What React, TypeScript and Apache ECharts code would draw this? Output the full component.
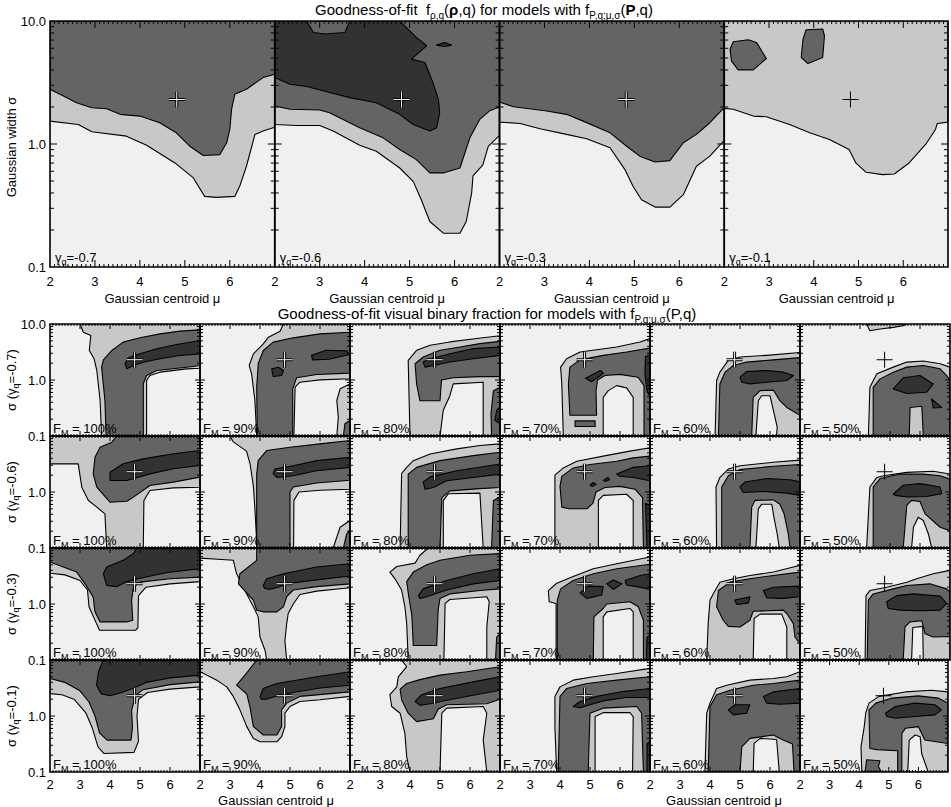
import React, { useEffect, useRef } from 'react';
import * as echarts from 'echarts';

// polygon outline points are [mu, log10(sigma)]; shade index 0..3
type Pt = [number, number];
type Poly = [number, Pt[]];

const SHADES = ['#f0f0f0', '#c8c8c8', '#646464', '#323232'];
const GAMMA_Q = ['-0.7', '-0.6', '-0.3', '-0.1'];
const F_M = ['100%', '90%', '80%', '70%', '60%', '50%'];
const MU_TICKS = [2, 3, 4, 5, 6, 7];
const SIGMA_MAJOR = [0.1, 1, 10];
const SIGMA_MINOR = [0.2, 0.3, 0.4, 0.5, 0.6, 0.7, 0.8, 0.9, 2, 3, 4, 5, 6, 7, 8, 9];
const BEST_FIT: [number, number] = [4.82, 2.3];

// ---------- top row: goodness of fit f_rho,q ----------
const TOP_M07: Poly[] = [
  [1, [[2, 1], [7, 1], [7, 0.137], [6.74, 0.105], [6.56, 0.078], [6.37, -0.181], [6.22, -0.344], [6.11, -0.426], [5.7, -0.434], [5.44, -0.426], [5.19, -0.276], [4.78, -0.154], [4.15, -0.01], [3.7, 0.064], [2.93, 0.099], [2.63, 0.159], [2, 0.186]]],
  [2, [[2, 1], [7, 1], [7, 0.567], [6.74, 0.54], [6.37, 0.445], [6.11, 0.404], [6.04, 0.282], [6.0, 0.118], [5.93, 0.01], [5.78, -0.086], [5.41, -0.094], [5.11, -0.018], [4.81, 0.091], [4.44, 0.173], [4.0, 0.227], [3.56, 0.241], [3.26, 0.287], [2.93, 0.295], [2.59, 0.336], [2.3, 0.39], [2, 0.445]]],
];
const TOP_M06: Poly[] = [
  [1, [[2, 1], [7, 1], [7, 0.07], [6.75, -0.02], [6.63, -0.17], [6.41, -0.26], [6.38, -0.4], [6.26, -0.63], [6.12, -0.725], [5.75, -0.725], [5.45, -0.63], [5.26, -0.453], [5.08, -0.304], [4.78, -0.195], [4.26, -0.059], [3.89, -0.01], [3.3, 0.105], [3.0, 0.151], [2.49, 0.151], [2, 0.159]]],
  [2, [[2, 1], [7, 1], [7, 0.3], [6.78, 0.27], [6.56, 0.2], [6.34, 0.05], [6.12, -0.195], [5.75, -0.235], [5.45, -0.235], [5.15, -0.127], [4.78, -0.045], [4.41, 0.05], [3.89, 0.132], [3.22, 0.254], [3.0, 0.276], [2.34, 0.282], [2, 0.309]]],
  [3, [[2, 1], [2.71, 1], [2.86, 0.907], [3.12, 0.894], [3.56, 0.907], [3.67, 1], [4.78, 1], [5.15, 0.867], [5.38, 0.799], [5.04, 0.69], [5.34, 0.663], [5.52, 0.499], [5.64, 0.363], [5.67, 0.254], [5.6, 0.132], [5.45, 0.105], [5.08, 0.159], [4.78, 0.241], [4.26, 0.336], [3.67, 0.377], [3.22, 0.418], [2.71, 0.467], [2.34, 0.486], [2, 0.54]]],
  [3, [[5.6, 0.804], [5.78, 0.826], [5.93, 0.804], [5.78, 0.793]]],
];
const TOP_M03: Poly[] = [
  [1, [[2, 1], [7, 1], [7, 0.029], [6.68, -0.099], [6.38, -0.181], [6.09, -0.412], [5.79, -0.513], [5.46, -0.513], [5.16, -0.453], [4.97, -0.344], [4.79, -0.208], [4.46, -0.031], [3.94, 0.042], [3.49, 0.078], [2.9, 0.124], [2.46, 0.167], [2, 0.178]]],
  [2, [[2, 1], [7, 1], [7, 0.295], [6.68, 0.173], [6.38, 0.078], [6.09, 0.01], [5.79, -0.135], [5.46, -0.146], [5.12, -0.099], [4.83, -0.018], [4.46, 0.091], [3.86, 0.186], [3.49, 0.241], [3.05, 0.268], [2.31, 0.303], [2, 0.341]]],
];
const TOP_M01: Poly[] = [
  [1, [[2, 1], [7, 1], [7, 0.178], [6.76, 0.167], [6.72, 0.118], [6.5, -0.004], [6.13, -0.154], [5.8, -0.244], [5.54, -0.249], [5.17, -0.23], [4.94, -0.154], [4.79, -0.045], [4.35, 0.037], [3.91, 0.091], [3.46, 0.159], [2.94, 0.222], [2.65, 0.227], [2.2, 0.282], [2, 0.29]]],
  [2, [[2.2, 0.831], [2.54, 0.848], [2.72, 0.826], [2.94, 0.695], [2.65, 0.603], [2.31, 0.603], [2.16, 0.676], [2.13, 0.771]]],
  [2, [[3.83, 0.929], [4.2, 0.935], [4.24, 0.88], [4.2, 0.703], [3.87, 0.654], [3.72, 0.703], [3.76, 0.853]]],
];

// ---------- bottom grid: visual binary fraction ----------
const G07_F100: Poly[] = [
  [1, [[3.0, 1], [7, 1], [7, 0.211], [6.56, 0.199], [5.67, 0.14], [5.33, 0.08], [5.22, -0.009], [5.22, -1], [3.72, -1], [3.67, -0.366], [3.56, 0.17], [3.47, 0.378], [3.31, 0.527], [3.36, 0.795], [3.11, 0.854]]],
  [2, [[7, 0.896], [7, 0.259], [6.56, 0.229], [5.56, 0.17], [5.22, 0.08], [5.11, -0.068], [5.11, -1], [3.87, -1], [3.83, -0.366], [3.72, 0.229], [3.78, 0.36], [4.06, 0.527], [4.44, 0.676], [5.0, 0.753], [5.67, 0.824], [6.33, 0.872]]],
  [3, [[4.5, 0.289], [4.61, 0.396], [5.0, 0.467], [5.56, 0.557], [6.22, 0.634], [7, 0.705], [7, 0.467], [6.33, 0.438], [5.67, 0.378], [5.11, 0.318], [4.78, 0.259], [4.56, 0.199]]],
];
const G07_F90: Poly[] = [
  [1, [[4.67, 0.872], [4.78, 1], [7, 1], [7, 0.021], [6.0, 0.003], [5.33, -0.039], [5.17, -0.128], [5.13, -1], [3.89, -1], [3.83, -0.366], [3.72, 0.11], [3.64, 0.259], [3.78, 0.467], [4.11, 0.646], [4.28, 0.765]]],
  [1, [[7, -0.07], [6.67, -0.158], [6.56, -0.366], [6.61, -0.664], [6.56, -1], [7, -1]]],
  [2, [[7, 0.854], [7, 0.122], [5.89, 0.098], [5.22, 0.039], [5.09, -0.158], [5.09, -1], [3.91, -1], [3.89, -0.128], [3.94, 0.289], [4.11, 0.527], [4.44, 0.676], [5.11, 0.753], [6.0, 0.824]]],
  [2, [[6.83, -0.78], [7, -0.72], [7, -1], [6.78, -1]]],
  [3, [[4.39, 0.199], [4.61, 0.229], [4.78, 0.17], [4.72, 0.08], [4.44, 0.063]]],
  [3, [[5.72, 0.44], [6.2, 0.53], [6.9, 0.52], [6.95, 0.45], [6.3, 0.37], [5.75, 0.36]]],
];
const G07_F80: Poly[] = [
  [1, [[4.0, -1], [3.94, 0.35], [4.22, 0.53], [4.67, 0.62], [5.33, 0.68], [6.22, 0.74], [7, 0.79], [7, -1]]],
  [0, [[5.0, -1], [5.11, -0.54], [5.33, -0.28], [5.44, -0.07], [6.44, -0.04], [6.44, -1]]],
  [2, [[4.17, 0.29], [4.44, 0.41], [5.0, 0.53], [5.67, 0.59], [6.33, 0.65], [7, 0.69], [7, 0.06], [6.33, 0.06], [5.44, 0.04], [5.05, 0.0], [5.0, -0.37], [4.33, -0.37], [4.22, -0.07]]],
  [2, [[6.72, -1], [6.7, -0.6], [6.78, -0.19], [7, -0.13], [7, -1]]],
  [3, [[4.44, 0.32], [4.67, 0.38], [5.33, 0.47], [6.11, 0.56], [7, 0.59], [7, 0.44], [6.11, 0.38], [5.33, 0.32], [4.78, 0.26], [4.5, 0.23]]],
  [3, [[6.89, -0.54], [7, -0.48], [7, -0.78], [6.83, -0.72]]],
];
const G07_F70: Poly[] = [
  [1, [[4.11, -1], [4.06, -0.07], [4.02, 0.23], [4.22, 0.38], [4.67, 0.5], [5.22, 0.54], [5.89, 0.59], [6.67, 0.68], [7, 0.74], [7, -1]]],
  [2, [[4.33, -0.63], [4.28, -0.07], [4.33, 0.23], [4.67, 0.36], [5.44, 0.44], [6.22, 0.5], [7, 0.57], [7, -1], [6.8, -1], [6.8, -0.1], [6.6, 0.05], [6.0, 0.1], [5.5, 0.08], [5.25, 0.0], [5.2, -0.2], [5.22, -0.63]]],
  [2, [[4.5, -0.73], [5.17, -0.73], [5.17, -0.83], [4.5, -0.83]]],
  [0, [[5.44, -1], [5.44, -0.31], [5.61, -0.19], [5.89, -0.1], [6.22, -0.14], [6.44, -0.31], [6.44, -1]]],
  [3, [[4.85, 0.03], [5.35, 0.17], [5.45, 0.12], [5.05, -0.03]]],
  [3, [[6.85, 0.42], [7, 0.45], [7, -0.3], [6.9, -0.2], [6.83, 0.1]]],
];
const G07_F60: Poly[] = [
  [1, [[4.17, -1], [4.22, -0.01], [4.33, 0.14], [4.61, 0.35], [5.0, 0.41], [5.89, 0.44], [7, 0.49], [7, -1]]],
  [2, [[4.28, -1], [4.33, -0.07], [4.5, 0.14], [4.78, 0.26], [5.22, 0.32], [6.11, 0.36], [7, 0.4], [7, -1]]],
  [1, [[5.39, -1], [5.44, -0.31], [5.67, -0.19], [6.11, -0.18], [6.33, -0.37], [6.56, -0.49], [7, -0.63], [7, -1]]],
  [0, [[5.53, -1], [5.61, -0.37], [5.72, -0.28], [6.0, -0.28], [6.09, -0.49], [6.24, -0.84], [6.22, -1]]],
  [3, [[5.0, 0.05], [5.22, 0.15], [5.89, 0.17], [6.44, 0.14], [6.78, 0.08], [6.56, -0.01], [5.89, -0.04], [5.33, -0.07], [5.06, -0.04]]],
];
const G07_F50: Poly[] = [
  [1, [[4.22, 1], [4.33, 0.88], [4.67, 0.91], [5.11, 0.94], [5.44, 0.97], [5.56, 1]]],
  [1, [[4.28, -1], [4.33, -0.13], [4.56, 0.11], [5.11, 0.23], [5.56, 0.32], [6.11, 0.34], [6.67, 0.29], [7, 0.23], [7, -1]]],
  [2, [[4.44, -1], [4.44, -0.13], [4.67, 0.02], [5.11, 0.14], [5.56, 0.23], [6.11, 0.26], [6.67, 0.2], [6.89, 0.08], [7, -0.01], [7, -1]]],
  [1, [[5.64, -1], [5.67, -0.49], [6.06, -0.47], [6.11, -1]]],
  [3, [[5.11, -0.16], [5.44, 0.04], [6.0, 0.08], [6.44, -0.07], [6.22, -0.22], [5.56, -0.24]]],
  [3, [[6.39, -0.34], [6.72, -0.49], [6.44, -0.5]]],
];

const G06_F100: Poly[] = [
  [1, [[2, 1], [7, 1], [7, 0.086], [6.11, 0.074], [5.33, 0.027], [5.13, -0.152], [5.11, -1], [3.89, -1], [3.83, -0.39], [3.56, -0.271], [3.28, -0.152], [3.06, 0.086], [2.94, 0.503], [2, 0.503]]],
  [2, [[4.22, 1], [7, 1], [7, 0.265], [6.11, 0.176], [5.33, 0.116], [4.78, -0.092], [4.56, -0.164], [4.0, -0.182], [3.56, 0.086], [3.44, 0.324], [3.5, 0.622], [3.67, 0.801], [4.06, 0.89]]],
  [3, [[4.0, 0.354], [4.44, 0.503], [5.11, 0.592], [6.11, 0.682], [7, 0.741], [7, 0.473], [6.11, 0.414], [5.33, 0.324], [4.56, 0.205], [4.0, 0.205]]],
];
const G06_F90: Poly[] = [
  [1, [[3.0, 1], [7, 1], [7, 0.05], [6.0, 0.03], [5.3, 0.0], [5.13, -0.15], [5.12, -1], [3.9, -1], [3.83, -0.3], [3.78, 0.1], [3.67, 0.5], [3.55, 0.73], [3.1, 0.9]]],
  [1, [[7, -0.51], [6.67, -0.63], [6.44, -1], [7, -1]]],
  [2, [[4.22, 0.74], [5.0, 0.8], [6.0, 0.86], [7, 0.92], [7, 0.21], [5.89, 0.16], [5.11, 0.09], [5.0, 0.0], [5.0, -1], [3.89, -1], [3.89, 0.32], [3.94, 0.56]]],
  [2, [[6.89, -0.75], [7, -0.69], [7, -1], [6.78, -1]]],
  [3, [[4.44, 0.33], [4.5, 0.41], [5.11, 0.47], [5.89, 0.56], [7, 0.62], [7, 0.44], [5.89, 0.38], [5.11, 0.29], [4.56, 0.26]]],
];
const G06_F80: Poly[] = [
  [1, [[3.67, -1], [3.72, 0.33], [3.89, 0.44], [4.11, 0.56], [4.67, 0.68], [5.56, 0.77], [6.33, 0.83], [7, 0.86], [7, -1]]],
  [0, [[5.11, -1], [5.11, -0.15], [5.28, -0.03], [6.33, -0.02], [6.44, -1]]],
  [2, [[3.94, -1], [3.94, 0.32], [4.22, 0.44], [5.0, 0.56], [6.11, 0.65], [7, 0.71], [7, 0.08], [6.33, 0.06], [5.33, 0.02], [5.06, -0.1], [5.0, -1]]],
  [2, [[6.72, -1], [6.78, -0.15], [7, -0.09], [7, -1]]],
  [3, [[4.44, 0.18], [4.67, 0.27], [5.56, 0.38], [7, 0.5], [7, 0.32], [6.11, 0.26], [5.22, 0.2], [4.78, 0.08], [4.5, 0.05]]],
];
const G06_F70: Poly[] = [
  [1, [[3.83, -1], [3.83, 0.3], [4.11, 0.43], [4.56, 0.55], [5.44, 0.64], [6.33, 0.73], [7, 0.79], [7, -1]]],
  [2, [[4.3, -0.3], [4.06, -0.27], [4.0, 0.1], [4.06, 0.28], [4.44, 0.43], [5.0, 0.49], [5.89, 0.55], [6.44, 0.61], [7, 0.64], [7, -1], [6.78, -1], [6.75, -0.1], [6.5, 0.05], [6.0, 0.1], [5.5, 0.08], [5.2, 0.0], [5.1, -0.2], [4.9, -0.3]]],
  [0, [[5.28, -1], [5.28, -0.15], [5.44, -0.06], [6.22, -0.04], [6.44, -0.15], [6.44, -1]]],
  [3, [[5.89, 0.32], [6.44, 0.44], [7, 0.47], [7, 0.2], [6.44, 0.26], [6.0, 0.28]]],
  [3, [[5.0, 0.12], [5.11, 0.17], [5.2, 0.14], [5.08, 0.1]]],
  [3, [[5.45, 0.21], [5.6, 0.26], [5.65, 0.22], [5.5, 0.19]]],
  [3, [[6.85, -0.2], [7, -0.25], [7, -1], [6.9, -1]]],
];
const G06_F60: Poly[] = [
  [1, [[4.22, -1], [4.2, 0.09], [4.33, 0.26], [4.61, 0.41], [5.0, 0.47], [6.11, 0.53], [7, 0.57], [7, -1]]],
  [2, [[4.39, -1], [4.39, 0.09], [4.61, 0.29], [5.0, 0.4], [6.11, 0.46], [7, 0.49], [7, -1]]],
  [1, [[5.33, -1], [5.39, -0.27], [5.5, -0.15], [6.11, -0.14], [6.33, -0.22], [6.47, -0.39], [6.61, -0.75], [6.67, -1]]],
  [0, [[5.53, -1], [5.61, -0.3], [5.72, -0.22], [6.06, -0.22], [6.13, -0.45], [6.24, -0.75], [6.31, -1]]],
  [3, [[5.0, 0.09], [5.17, 0.18], [5.89, 0.24], [6.67, 0.22], [7, 0.18], [7, -0.06], [6.56, -0.02], [5.78, 0.01], [5.11, -0.01]]],
];
const G06_F50: Poly[] = [
  [1, [[4.22, -1], [4.33, 0.09], [4.56, 0.26], [4.78, 0.29], [5.56, 0.35], [6.44, 0.37], [7, 0.32], [7, -1]]],
  [2, [[4.44, -1], [4.44, 0.09], [4.67, 0.24], [5.33, 0.32], [6.11, 0.32], [6.67, 0.29], [7, 0.23], [7, -1]]],
  [1, [[5.44, -1], [5.56, -0.24], [5.72, -0.15], [6.0, -0.17], [6.17, -0.39], [6.67, -0.63], [7, -0.69], [7, -1]]],
  [0, [[5.72, -1], [5.78, -0.63], [5.94, -0.45], [6.11, -0.51], [6.28, -0.75], [6.39, -1]]],
  [3, [[5.11, -0.04], [5.44, 0.12], [6.0, 0.15], [6.67, 0.09], [6.72, -0.03], [6.22, -0.08], [5.56, -0.09], [5.17, -0.06]]],
];

const G03_F100: Poly[] = [
  [1, [[2, 1], [7, 1], [7, 0.4], [6, 0.36], [5.2, 0.3], [4.95, 0.15], [4.93, -0.42], [4.85, -0.47], [3.65, -0.47], [3.55, -0.35], [3.3, -0.05], [3.25, 0.25], [3.0, 0.42], [2.5, 0.52], [2, 0.55]]],
  [2, [[2, 1], [7, 1], [7, 0.48], [6.0, 0.45], [5.0, 0.39], [4.78, 0.3], [4.72, 0.07], [4.76, -0.29], [4.56, -0.32], [3.67, -0.32], [3.5, -0.14], [3.44, 0.12], [3.17, 0.36], [2.89, 0.57], [2.44, 0.66], [2, 0.75]]],
  [3, [[3.78, 0.54], [3.89, 0.66], [4.44, 0.78], [4.78, 0.9], [4.89, 1], [7, 1], [7, 0.63], [6.0, 0.57], [5.0, 0.46], [4.56, 0.4], [4.22, 0.31], [3.89, 0.33]]],
];
const G03_F90: Poly[] = [
  [1, [[2, 1], [7, 1], [7, 0.29], [5.89, 0.23], [5.33, 0.17], [5.11, 0.0], [4.94, -0.17], [4.89, -0.35], [4.83, -0.66], [4.89, -1], [4.22, -1], [4.17, -0.83], [4.0, -0.59], [3.94, -0.23], [3.78, -0.05], [3.44, 0.3], [3.22, 0.54], [3.11, 0.78], [2.6, 0.8], [2, 0.82]]],
  [2, [[3.89, 1], [7, 1], [7, 0.36], [5.89, 0.31], [5.11, 0.25], [4.89, 0.13], [4.78, -0.05], [4.56, -0.14], [4.11, -0.14], [3.89, -0.11], [3.78, 0.07], [3.28, 0.36], [3.33, 0.54], [3.89, 0.78]]],
  [3, [[4.11, 0.33], [4.22, 0.45], [4.78, 0.54], [5.89, 0.66], [7, 0.72], [7, 0.5], [5.89, 0.43], [5.0, 0.37], [4.6, 0.3], [4.3, 0.26], [4.15, 0.28]]],
];
const G03_F80: Poly[] = [
  [1, [[3.33, 0.57], [3.56, 0.67], [4.17, 0.73], [4.33, 0.87], [4.61, 1], [7, 1], [7, -1], [3.94, -1], [3.89, -0.35], [3.83, -0.05], [3.72, 0.25], [3.5, 0.45]]],
  [0, [[5.13, -1], [5.17, 0.01], [5.33, 0.08], [6.56, 0.13], [6.64, 0.04], [6.56, -0.41], [6.56, -1]]],
  [2, [[6.85, -1], [6.89, -0.59], [7, -0.53], [7, -1]]],
  [2, [[4.11, -0.74], [4.06, -0.2], [3.94, 0.2], [3.89, 0.4], [4.11, 0.57], [4.56, 0.7], [5.0, 0.78], [6.0, 0.87], [7, 0.9], [7, 0.27], [6.33, 0.24], [5.33, 0.18], [5.0, 0.1], [4.94, -0.1], [4.89, -0.74]]],
  [3, [[4.28, 0.15], [4.44, 0.27], [5.22, 0.42], [6.11, 0.54], [7, 0.63], [7, 0.42], [6.11, 0.36], [5.22, 0.25], [4.56, 0.13], [4.33, 0.1]]],
];
const G03_F70: Poly[] = [
  [1, [[3.61, 0.24], [3.89, 0.37], [4.44, 0.49], [5.11, 0.63], [5.89, 0.72], [7, 0.84], [7, -1], [3.87, -1], [3.87, 0.01], [3.64, 0.04]]],
  [2, [[3.91, -1], [3.91, 0.07], [4.02, 0.27], [4.44, 0.42], [5.11, 0.54], [5.89, 0.63], [7, 0.71], [7, -1]]],
  [1, [[5.11, -1], [5.13, -0.23], [5.44, -0.08], [5.56, 0.0], [6.33, 0.04], [6.61, -0.05], [6.78, -0.29], [6.78, -1]]],
  [0, [[5.44, -1], [5.44, -0.23], [5.56, -0.14], [6.33, -0.08], [6.44, -0.14], [6.44, -1]]],
  [3, [[4.67, 0.2], [4.94, 0.32], [5.44, 0.31], [5.39, 0.16], [4.89, 0.1]]],
  [3, [[5.56, 0.36], [5.78, 0.43], [6.06, 0.36], [5.78, 0.26]]],
  [3, [[6.17, 0.42], [6.67, 0.51], [7, 0.54], [7, 0.26], [6.56, 0.31], [6.22, 0.34]]],
  [3, [[6.9, -0.6], [7, -0.55], [7, -1], [6.88, -1]]],
];
const G03_F60: Poly[] = [
  [1, [[3.89, -1], [3.94, -0.35], [4.0, 0.07], [4.17, 0.24], [4.33, 0.39], [4.78, 0.45], [5.33, 0.51], [6.11, 0.57], [6.78, 0.66], [7, 0.69], [7, -1]]],
  [2, [[4.28, 0.24], [4.67, 0.39], [5.33, 0.45], [6.11, 0.51], [7, 0.57], [7, -0.71], [6.83, -0.59], [6.78, -0.35], [6.56, -0.17], [6.44, -0.11], [5.44, -0.13], [5.33, -0.29], [5.0, -0.41], [4.61, -0.4], [4.44, -0.29], [4.22, -0.05]]],
  [0, [[5.44, -1], [5.47, -0.26], [5.67, -0.18], [6.39, -0.18], [6.56, -0.41], [6.56, -1]]],
  [3, [[4.83, 0.07], [5.33, 0.13], [5.28, 0.02], [4.89, -0.01]]],
  [3, [[5.78, 0.24], [6.11, 0.3], [7, 0.32], [7, 0.13], [6.44, 0.1], [5.89, 0.11]]],
];
const G03_F50: Poly[] = [
  [1, [[4.17, -1], [4.2, 0.15], [4.33, 0.24], [4.89, 0.3], [5.56, 0.39], [5.89, 0.45], [6.44, 0.54], [7, 0.6], [7, -1]]],
  [2, [[4.24, -1], [4.28, 0.07], [4.44, 0.18], [5.11, 0.27], [5.56, 0.33], [6.33, 0.36], [6.89, 0.27], [7, 0.21], [7, -1]]],
  [1, [[5.44, -1], [5.5, -0.41], [5.67, -0.32], [6.06, -0.3], [6.17, -0.53], [6.44, -0.59], [7, -0.58], [7, -1]]],
  [0, [[5.72, -1], [5.76, -0.42], [6.09, -0.4], [6.11, -1]]],
  [3, [[4.89, 0.04], [5.22, 0.15], [5.78, 0.18], [6.67, 0.14], [6.89, 0.01], [6.67, -0.11], [6.0, -0.12], [5.33, -0.11], [4.94, -0.08]]],
];

const G01_F100: Poly[] = [
  [1, [[2, 1], [7, 1], [7, 0.52], [6, 0.48], [5.25, 0.42], [4.95, 0.3], [4.9, 0.0], [4.95, -0.45], [4.8, -0.65], [3.8, -0.67], [3.6, -0.55], [3.4, -0.2], [3.2, 0.05], [2.8, 0.3], [2.4, 0.38], [2, 0.4]]],
  [2, [[2, 1], [7, 1], [7, 0.61], [6, 0.56], [5.1, 0.47], [4.85, 0.36], [4.72, 0.1], [4.75, -0.2], [4.7, -0.43], [3.9, -0.43], [3.65, -0.3], [3.5, 0.0], [3.3, 0.25], [3.0, 0.45], [2.5, 0.6], [2, 0.67]]],
  [3, [[3.78, 1], [7, 1], [7, 0.73], [6.0, 0.68], [5.2, 0.6], [4.8, 0.5], [4.4, 0.42], [4.0, 0.36], [3.7, 0.4], [3.55, 0.55], [3.62, 0.8]]],
];
const G01_F90: Poly[] = [
  [1, [[2, 1], [7, 1], [7, 0.35], [6.0, 0.29], [5.33, 0.26], [5.0, 0.17], [4.83, 0.05], [4.83, -0.19], [4.72, -0.37], [4.56, -0.46], [4.0, -0.46], [3.78, -0.4], [3.56, -0.19], [3.33, 0.11], [3.11, 0.35], [2.89, 0.52], [2.56, 0.64], [2, 0.79]]],
  [2, [[3.89, 1], [7, 1], [7, 0.43], [5.33, 0.35], [4.89, 0.23], [4.72, 0.11], [4.72, -0.19], [4.56, -0.34], [4.11, -0.34], [3.78, -0.19], [3.67, 0.15], [3.56, 0.39], [3.22, 0.55], [3.56, 0.77]]],
  [3, [[4.0, 0.35], [4.11, 0.49], [4.56, 0.58], [5.89, 0.7], [7, 0.79], [7, 0.55], [6.0, 0.5], [5.1, 0.42], [4.6, 0.36], [4.2, 0.3], [4.05, 0.3]]],
];
const G01_F80: Poly[] = [
  [1, [[3.72, 1], [7, 1], [7, -1], [4.0, -1], [3.89, -0.73], [3.83, -0.31], [3.67, 0.05], [3.39, 0.17], [3.33, 0.38], [3.56, 0.52], [3.61, 0.7], [3.89, 0.88]]],
  [0, [[5.0, -1], [5.06, 0.05], [5.22, 0.14], [6.44, 0.17], [6.56, 0.05], [6.44, -0.43], [6.56, -1]]],
  [2, [[3.67, 0.48], [3.89, 0.58], [4.33, 0.65], [5.0, 0.73], [5.89, 0.79], [7, 0.88], [7, 0.3], [6.56, 0.22], [5.22, 0.2], [4.94, 0.12], [4.78, -0.05], [4.22, -0.1], [3.94, 0.05], [3.72, 0.29]]],
  [3, [[4.17, 0.26], [4.39, 0.38], [5.0, 0.49], [6.11, 0.61], [7, 0.7], [7, 0.46], [6.11, 0.37], [5.22, 0.28], [4.67, 0.22], [4.33, 0.19]]],
];
const G01_F70: Poly[] = [
  [1, [[3.83, 0.35], [4.0, 0.52], [4.44, 0.64], [5.11, 0.7], [5.89, 0.76], [7, 0.85], [7, -1], [3.89, -1], [3.83, -0.2]]],
  [2, [[3.94, -1], [4.0, 0.35], [4.22, 0.49], [4.89, 0.58], [5.89, 0.64], [7, 0.7], [7, -1]]],
  [1, [[4.94, -1], [5.0, 0.05], [5.44, 0.14], [6.56, 0.17], [6.72, 0.05], [6.78, -1]]],
  [0, [[5.17, -1], [5.17, -0.01], [5.44, 0.06], [6.33, 0.06], [6.44, -0.01], [6.42, -1]]],
  [3, [[4.44, 0.17], [4.67, 0.26], [5.22, 0.35], [6.0, 0.43], [7, 0.49], [7, 0.33], [6.2, 0.33], [5.44, 0.27], [5.0, 0.2], [4.67, 0.15]]],
  [3, [[6.9, -0.5], [7, -0.45], [7, -1], [6.9, -1]]],
];
const G01_F60: Poly[] = [
  [1, [[3.83, -1], [3.89, 0.05], [4.0, 0.23], [4.22, 0.49], [4.56, 0.55], [5.33, 0.64], [6.11, 0.67], [6.56, 0.7], [7, 0.79], [7, -1]]],
  [2, [[3.94, -1], [4.0, 0.17], [4.22, 0.38], [4.67, 0.46], [5.44, 0.55], [6.11, 0.58], [7, 0.64], [7, -1]]],
  [1, [[5.0, -1], [5.06, -0.55], [5.33, -0.4], [6.11, -0.34], [6.44, -0.43], [6.75, -0.5], [6.8, -1]]],
  [0, [[5.44, -1], [5.47, -0.49], [5.67, -0.4], [6.22, -0.42], [6.31, -1]]],
  [3, [[4.61, 0.11], [4.83, 0.2], [5.33, 0.2], [5.22, 0.05], [4.78, 0.02]]],
  [3, [[5.78, 0.35], [6.11, 0.43], [7, 0.49], [7, 0.23], [6.33, 0.21], [5.89, 0.23]]],
];
const G01_F50: Poly[] = [
  [1, [[4.09, -1], [4.06, -0.55], [4.17, -0.19], [4.22, 0.05], [4.33, 0.23], [4.67, 0.35], [5.56, 0.43], [6.44, 0.46], [7, 0.43], [7, -1]]],
  [2, [[4.36, -0.58], [4.33, 0.11], [4.56, 0.23], [5.11, 0.32], [6.0, 0.36], [6.67, 0.32], [7, 0.23], [7, -1], [5.3, -1], [5.3, -0.62], [4.6, -0.6]]],
  [2, [[4.2, -1], [4.25, -0.78], [4.7, -0.8], [4.65, -0.9], [4.75, -1]]],
  [1, [[5.44, -1], [5.44, -0.31], [5.56, -0.22], [6.0, -0.19], [6.22, -0.43], [7, -0.49], [7, -1]]],
  [0, [[5.64, -1], [5.69, -0.43], [5.89, -0.34], [6.06, -0.37], [6.11, -0.67], [6.33, -1]]],
  [3, [[4.89, 0.05], [5.22, 0.17], [5.89, 0.23], [6.56, 0.2], [6.78, 0.11], [6.56, 0.02], [5.89, -0.01], [5.22, -0.04], [4.94, -0.01]]],
];

const TOP_PANELS = [TOP_M07, TOP_M06, TOP_M03, TOP_M01];
const BOTTOM_PANELS = [
  [G07_F100, G07_F90, G07_F80, G07_F70, G07_F60, G07_F50],
  [G06_F100, G06_F90, G06_F80, G06_F70, G06_F60, G06_F50],
  [G03_F100, G03_F90, G03_F80, G03_F70, G03_F60, G03_F50],
  [G01_F100, G01_F90, G01_F80, G01_F70, G01_F60, G01_F50],
];

const FONT = "'Liberation Sans', Arial, Helvetica, sans-serif";

interface Panel {
  left: number; top: number; width: number; height: number;
  polys: Poly[]; xLabels: boolean; yLabels: number; blackCross: boolean; big: boolean;
}

function buildOption() {
  const panels: Panel[] = [];
  TOP_PANELS.forEach((polys, k) => {
    panels.push({ left: 50 + 224.75 * k, top: 21, width: 224.75, height: 246, polys, xLabels: true, yLabels: k === 0 ? 1 : 0, blackCross: k === 3, big: true });
  });
  BOTTOM_PANELS.forEach((row, r) => {
    row.forEach((polys, c) => {
      panels.push({ left: 50 + 150 * c, top: 324 + 112 * r, width: 150, height: 112, polys, xLabels: r === 3, yLabels: c === 0 ? (r === 0 ? 1 : 2) : 0, blackCross: c === 5, big: false });
    });
  });

  const grid = panels.map(p => ({ left: p.left, top: p.top, width: p.width, height: p.height, show: true, backgroundColor: SHADES[0], borderWidth: 0 }));
  const xAxis = panels.map((p, i) => ({
    gridIndex: i, type: 'value', min: MU_TICKS[0], max: MU_TICKS[MU_TICKS.length - 1], interval: 1,
    axisLine: { show: false }, axisTick: { show: false }, splitLine: { show: false },
    axisLabel: { show: p.xLabels, margin: p.big ? 8 : 6, fontSize: 13, color: '#000', fontFamily: FONT, formatter: (v: number) => (v > 6.5 ? '' : String(Math.round(v))) },
  }));
  const yAxis = panels.map((p, i) => ({
    gridIndex: i, type: 'log', logBase: 10, min: SIGMA_MAJOR[0], max: SIGMA_MAJOR[2],
    axisLine: { show: false }, axisTick: { show: false }, splitLine: { show: false },
    axisLabel: { show: p.yLabels > 0, margin: 4, fontSize: 13, color: '#000', fontFamily: FONT, formatter: (v: number) => (v > 5 ? (p.yLabels === 1 ? '10.0' : '') : v > 0.5 ? '1.0' : '0.1') },
  }));

  const series: any[] = [];
  panels.forEach((p, i) => {
    series.push({
      type: 'custom', xAxisIndex: i, yAxisIndex: i, silent: true, clip: true, z: 2,
      data: p.polys.map(poly => [poly[1][0][0], Math.pow(10, poly[1][0][1])]),
      encode: { x: 0, y: 1 },
      renderItem: (params: any, api: any) => {
        const poly = p.polys[params.dataIndex];
        const pts = poly[1].map(([m, l]) => api.coord([m, Math.pow(10, l)]));
        return { type: 'polygon', shape: { points: pts }, style: { fill: SHADES[poly[0]], stroke: '#000', lineWidth: 1.1, lineJoin: 'round' } };
      },
    });
  });
  panels.forEach((p, i) => {
    series.push({
      type: 'custom', xAxisIndex: i, yAxisIndex: i, silent: true, z: 3,
      data: [BEST_FIT], encode: { x: 0, y: 1 },
      renderItem: (params: any, api: any) => {
        const cs = params.coordSys;
        const x0 = cs.x, y0 = cs.y, x1 = cs.x + cs.width, y1 = cs.y + cs.height;
        const kids: any[] = [];
        const ln = (a: number, b: number, c: number, d: number, w = 1, col = '#000') =>
          kids.push({ type: 'line', shape: { x1: a, y1: b, x2: c, y2: d }, style: { stroke: col, lineWidth: w } });
        const LM = p.big ? 7 : 5, Lm = p.big ? 3 : 2;
        MU_TICKS.forEach(m => {
          if (m <= 2 || m >= 7) return;
          const x = api.coord([m, 1])[0];
          ln(x, y1, x, y1 - LM); ln(x, y0, x, y0 + LM);
        });
        for (let t = 21; t < 70; t++) {
          if (t % 10 === 0) continue;
          const x = api.coord([t / 10, 1])[0];
          ln(x, y1, x, y1 - Lm); ln(x, y0, x, y0 + Lm);
        }
        SIGMA_MAJOR.forEach(s => {
          if (s <= 0.1 || s >= 10) return;
          const y = api.coord([2, s])[1];
          ln(x0, y, x0 + LM, y); ln(x1, y, x1 - LM, y);
        });
        SIGMA_MINOR.forEach(s => {
          const y = api.coord([2, s])[1];
          ln(x0, y, x0 + Lm + 1, y); ln(x1, y, x1 - Lm - 1, y);
        });
        kids.push({ type: 'rect', shape: { x: x0, y: y0, width: cs.width, height: cs.height }, style: { fill: 'transparent', stroke: '#000', lineWidth: 1.6 } });
        const c = api.coord([BEST_FIT[0], BEST_FIT[1]]);
        const a = 8;
        if (p.blackCross) {
          ln(c[0] - a, c[1], c[0] + a, c[1]); ln(c[0], c[1] - a, c[0], c[1] + a);
        } else {
          ln(c[0] - a, c[1], c[0] + a, c[1], 3); ln(c[0], c[1] - a, c[0], c[1] + a, 3);
          ln(c[0] - a, c[1], c[0] + a, c[1], 1, '#fff'); ln(c[0], c[1] - a, c[0], c[1] + a, 1, '#fff');
        }
        return { type: 'group', children: kids };
      },
    });
  });

  const richBig = {
    n: { fontSize: 15, fontFamily: FONT, lineHeight: 22, color: '#000' },
    b: { fontSize: 15, fontFamily: FONT, fontWeight: 'bold', lineHeight: 22, color: '#000' },
    s: { fontSize: 10, fontFamily: FONT, verticalAlign: 'bottom', color: '#000' },
  };
  const richSmall = {
    n: { fontSize: 13, fontFamily: FONT, lineHeight: 18, color: '#000' },
    s: { fontSize: 9, fontFamily: FONT, verticalAlign: 'bottom', color: '#000' },
  };
  const txt = (x: number, y: number, text: string, rich: any, align = 'center', rotation = 0) => ({
    type: 'text', x, y, rotation, z: 100, silent: true,
    style: { text, rich, fill: '#000', font: `13px ${FONT}`, align, verticalAlign: 'middle', textAlign: align, textVerticalAlign: 'middle' },
  });
  const graphic: any[] = [];
  graphic.push(txt(484, 9, '{n|Goodness-of-fit  f}{s|ρ,q}{n|(}{b|ρ}{n|,q) for models with f}{s|P,q;μ,σ}{n|(}{b|P}{n|,q)}', richBig));
  graphic.push(txt(487, 313, '{n|Goodness-of-fit visual binary fraction for models with f}{s|P,q;μ,σ}{n|(P,q)}', richBig));
  graphic.push(txt(11, 147, '{n|Gaussian width σ}', richSmall, 'center', Math.PI / 2));
  GAMMA_Q.forEach((g, k) => {
    graphic.push(txt(50 + 224.75 * k + 5, 257, `{n|γ}{s|q}{n|=${g}}`, richSmall, 'left'));
    graphic.push(txt(50 + 224.75 * k + 112.4, 298, '{n|Gaussian centroid μ}', richSmall));
    graphic.push(txt(11, 324 + 112 * k + 56, `{n|σ (γ}{s|q}{n|=${g})}`, richSmall, 'center', Math.PI / 2));
    F_M.forEach((f, c) => {
      graphic.push(txt(50 + 150 * c + 3, 324 + 112 * k + 104, `{n|F}{s|M}{n| = ${f}}`, richSmall, 'left'));
    });
  });
  graphic.push(txt(276, 800, '{n|Gaussian centroid μ}', richSmall));
  graphic.push(txt(724, 800, '{n|Gaussian centroid μ}', richSmall));

  return { animation: false, backgroundColor: '#ffffff', grid, xAxis, yAxis, series, graphic };
}

export default function App() {
  const ref = useRef<HTMLDivElement>(null);
  useEffect(() => {
    if (!ref.current) return;
    const chart = echarts.init(ref.current, null, { renderer: 'svg' });
    chart.setOption(buildOption() as any);
    return () => chart.dispose();
  }, []);
  return <div ref={ref} style={{ position: 'absolute', left: 0, top: 0, width: 951, height: 807 }} />;
}
